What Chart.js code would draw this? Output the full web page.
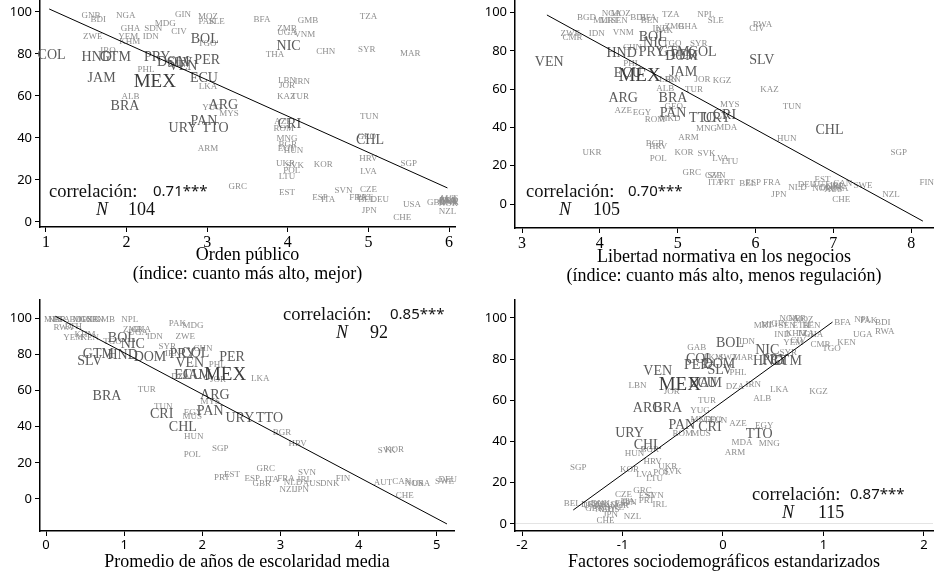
<!DOCTYPE html>
<html>
<head>
<meta charset="utf-8">
<script src="https://cdn.jsdelivr.net/npm/chart.js@4.4.1/dist/chart.umd.min.js"></script>
<style>
  html, body { margin: 0; padding: 0; background: #fff; }
  #wrap { position: relative; width: 936px; height: 575px; }
  .panel { position: absolute; }
</style>
</head>
<body>
<div id="wrap">
  <div class="panel" style="left:0;top:0;width:468px;height:290px"><canvas id="c1"></canvas></div>
  <div class="panel" style="left:468px;top:0;width:468px;height:290px"><canvas id="c2"></canvas></div>
  <div class="panel" style="left:0;top:290px;width:468px;height:285px"><canvas id="c3"></canvas></div>
  <div class="panel" style="left:468px;top:290px;width:468px;height:285px"><canvas id="c4"></canvas></div>
</div>
<script>
// país, valor en el eje x, valor en el eje y
var ordenPublico = [
  ['GNB',1.56,98],['BDI',1.65,96.5],['NGA',1.99,98],['GIN',2.70,98.6],['MOZ',3.01,97.6],
  ['PAK',3.00,95.2],['SLE',3.12,95.2],['BFA',3.68,96.5],['GMB',4.25,96],['TZA',5.0,97.6],
  ['GHA',2.05,91.9],['SDN',2.33,91.9],['MDG',2.48,94.3],['CIV',2.65,90.5],['ZWE',1.58,88],
  ['YEM',2.02,88],['KHM',2.04,86],['IDN',2.30,88],['BOL',2.97,87.1],['TGO',3.0,84.8],
  ['ZMB',3.99,91.9],['UGA',3.99,90],['VNM',4.21,89],['NIC',4.01,83.5],['THA',3.84,79.5],
  ['CHN',4.47,81],['SYR',4.98,82.2],['MAR',5.52,80],['COL',1.07,79.5],['HND',1.63,78.6],
  ['GTM',1.86,78.6],['IRQ',1.77,81.4],['PRY',2.38,78.6],['DOM',2.58,76.2],['PER',3.0,77.1],
  ['VEN',2.70,74],['SLV',2.66,75.5],['PHL',2.24,72.4],['JAM',1.69,68.6],['MEX',2.35,66.7],
  ['ECU',2.96,68.6],['LKA',3.01,64.3],['LBN',3.99,67.3],['IRN',4.18,66.7],['JOR',3.99,64.8],
  ['KAZ',3.98,59.5],['TUR',4.15,59.5],['ALB',2.05,59.5],['BRA',1.98,55.2],['YUG',3.06,54.3],
  ['ARG',3.2,55.7],['MYS',3.27,51.4],['PAN',2.96,48.1],['URY',2.70,44.8],['TTO',3.10,44.8],
  ['TUN',5.01,50],['AZE',3.94,47.6],['CRI',4.02,46.7],['ROM',3.95,44.3],['MNG',3.99,39.5],
  ['BGR',4.0,36.7],['EGY',3.99,34.8],['HUN',4.07,33.8],['ARM',3.01,34.8],['GEO',4.98,40.5],
  ['CHL',5.02,39],['HRV',5.0,30],['SGP',5.5,27.6],['LVA',5.0,23.8],['UKR',3.97,27.6],
  ['SVK',4.09,26.7],['POL',4.05,24.3],['LTU',3.99,21.4],['KOR',4.44,27.1],['GRC',3.38,16.7],
  ['EST',3.99,13.8],['SVN',4.69,14.8],['CZE',5.0,15.2],['ESP',4.40,11.4],['ITA',4.5,10.5],
  ['FRA',4.87,11.4],['PRT',4.95,11.4],['BEL',4.98,10.5],['DEU',5.14,10.5],['USA',5.54,8.1],
  ['JPN',5.01,5.2],['CHE',5.42,1.9],['GBR',5.84,9],['AUS',5.98,10.5],['CAN',5.98,9.5],
  ['DNK',6.0,9],['FIN',5.97,10],['NLD',6.0,10],['NOR',5.99,8.5],['SWE',6.0,9.5],
  ['AUT',5.99,11],['NZL',5.98,4.8]
];

var libertadNegocios = [
  ['BGD',3.83,97.1],['NGA',4.15,99.2],['MOZ',4.27,99.2],['MLI',4.02,95.6],['MRT',4.12,95.6],
  ['SEN',4.25,95.6],['BDI',4.49,97.1],['BFA',4.62,97.1],['BEN',4.64,95.6],['TZA',4.91,98.7],
  ['NPL',5.36,98.7],['SLE',5.49,95.6],['ZMB',4.96,92.4],['GHA',5.13,92.4],['IND',4.78,91.4],
  ['PAK',4.83,90.6],['RWA',6.09,93.5],['CIV',6.02,91.4],['ZWE',3.62,88.8],['CMR',3.65,86.7],
  ['IDN',3.96,88.8],['VNM',4.30,89.3],['BOL',4.68,87.2],['NIC',4.71,84],['TGO',4.93,84],
  ['SYR',5.27,83.6],['CHN',4.42,81.5],['HND',4.28,78.9],['PRY',4.67,79.4],['GTM',4.95,79.4],
  ['COL',5.32,79.4],['DOM',5.05,77.3],['PER',5.08,77.8],['VEN',3.35,74.2],['SLV',6.08,75.2],
  ['PHL',4.41,73.1],['ECU',4.36,68.4],['MEX',4.51,66.8],['JAM',5.07,68.9],['IRN',4.94,64.8],
  ['LBN',4.88,64.8],['JOR',5.32,64.8],['KGZ',5.57,64.3],['ALB',4.84,60],['TUR',5.21,59.5],
  ['KAZ',6.18,59.5],['ARG',4.30,55.3],['BRA',4.94,55.3],['MYS',5.67,51.7],['TUN',6.47,50.7],
  ['AZE',4.30,48.6],['EGY',4.54,47.5],['GEO',4.95,50.7],['PAN',4.94,47.5],['TTO',5.32,44.9],
  ['URY',5.50,44.9],['CRI',5.60,46.5],['ROM',4.71,43.9],['MKD',4.90,44.4],['MNG',5.37,39.2],
  ['MDA',5.63,39.7],['CHL',6.95,38.6],['HUN',6.4,33.9],['BGR',4.71,31.3],['ARM',5.14,34.5],
  ['HRV',4.75,29.8],['UKR',3.90,26.6],['POL',4.75,23.5],['KOR',5.08,26.6],['SVK',5.37,26.1],
  ['LVA',5.55,23.5],['LTU',5.67,21.9],['SGP',7.84,26.6],['GRC',5.18,16.2],['CZE',5.46,14.6],
  ['SVN',5.50,14.6],['ITA',5.48,11],['PRT',5.63,11],['BEL',5.9,10.4],['ESP',5.97,11],
  ['FRA',6.21,11],['JPN',6.30,4.7],['NLD',6.54,8.4],['DEU',6.66,9.9],['AUT',6.83,9.9],
  ['EST',6.86,13],['NOR',6.85,7.8],['DNK',6.95,8.4],['AUS',7.0,7.6],['GBR',7.02,8.9],
  ['IRL',7.05,9.4],['CAN',7.12,10.4],['SWE',7.38,9.4],['USA',7.08,8.0],['CHE',7.1,2.1],
  ['NZL',7.74,4.7],['FIN',8.2,11]
];

var escolaridad = [
  ['MLI',0.08,99.4],['NER',0.14,99.4],['BFA',0.20,99.2],['BDI',0.40,99.4],['MOZ',0.47,99],
  ['GNB',0.55,99.4],['SEN',0.63,98.9],['GMB',0.75,98.9],['RWA',0.22,94.5],['ETH',0.35,95.5],
  ['NPL',1.07,99.4],['ZMB',1.11,93.4],['GHA',1.22,93.4],['UGA',1.18,92],['PAK',1.68,96.7],
  ['MDG',1.88,96.1],['IDN',1.39,89.5],['ZWE',1.78,89.5],['YEM',0.35,89],['KEN',0.56,89],
  ['KHM',0.50,91],['TGO',0.85,87],['BOL',0.97,89],['NIC',1.11,85.6],['GTM',0.67,80.1],
  ['SLV',0.56,76.2],['HND',0.98,79.6],['DOM',1.33,78.5],['SYR',1.55,84],['IRN',1.62,80.5],
  ['PRY',1.75,80.1],['COL',1.91,80.7],['CHN',2.01,82.9],['VEN',1.84,75.1],['PER',2.38,78.5],
  ['PHL',2.19,74],['ECU',1.82,68.5],['JAM',1.93,68.5],['MEX',2.29,68.5],['DZA',1.72,67.5],
  ['JOR',2.20,65.7],['LKA',2.74,66.3],['BRA',0.78,56.9],['TUR',1.29,60.2],['ARG',2.16,57.5],
  ['MYS',2.10,53.6],['TUN',1.50,50.8],['CRI',1.48,47],['EGY',1.88,48],['MUS',1.87,45.3],
  ['PAN',2.10,48.6],['URY',2.48,44.8],['TTO',2.86,44.8],['CHL',1.75,39.8],['HUN',1.89,34.3],
  ['BGR',3.02,36.5],['HRV',3.22,30.4],['SGP',2.23,27.6],['POL',1.87,24.3],['SVK',4.36,26.5],
  ['KOR',4.46,27.1],['GRC',2.81,16.6],['PRT',2.25,11.6],['EST',2.38,13.3],['ESP',2.64,11],
  ['ITA',2.89,10.5],['GBR',2.76,8.3],['FRA',3.07,11],['NLD',3.16,8.8],['IRL',3.31,10.5],
  ['SVN',3.34,14.4],['NZL',3.10,5],['JPN',3.27,5],['AUS',3.40,8.3],['DNK',3.63,8.3],
  ['FIN',3.80,11],['AUT',4.31,8.8],['CAN',4.55,9.4],['NOR',4.71,8.3],['USA',4.80,8.3],
  ['CHE',4.59,1.7],['SWE',5.10,9.4],['DEU',5.14,10.5]
];

var sociodemograficos = [
  ['NGA',0.66,99.5],['NER',0.74,99.5],['MOZ',0.80,99],['MRT',0.40,96.1],['MLI',0.46,96.5],
  ['GIN',0.56,97],['SEN',0.64,96.1],['ETH',0.78,96.1],['BEN',0.88,96.1],['BFA',1.19,97.6],
  ['NPL',1.39,99],['PAK',1.45,98.6],['BDI',1.59,97.6],['RWA',1.61,93.2],['UGA',1.39,91.7],
  ['IND',0.59,91.7],['KHM',0.73,92.2],['TZA',0.82,92.2],['GHA',0.90,92],['YEM',0.70,87.9],
  ['CIV',0.75,89],['CMR',0.97,86.9],['KEN',1.23,87.9],['TGO',1.08,85],['SYR',0.65,83],
  ['NIC',0.44,84.5],['HND',0.45,79.1],['PRY',0.52,79.5],['GTM',0.63,79.1],['BOL',0.07,87.9],
  ['IDN',0.24,88.5],['GAB',-0.26,85.4],['COL',-0.23,80],['PER',-0.26,77.2],['DOM',-0.04,77.5],
  ['SLV',-0.03,74.8],['MAR',0.20,80.6],['TKM',-0.10,80.6],['SWZ',0.05,80.6],['PHL',0.15,73.3],
  ['DZA',0.12,66.5],['IRN',0.30,67.5],['LKA',0.56,65],['KGZ',0.95,64],['ALB',0.39,60.7],
  ['VEN',-0.65,74.3],['MEX',-0.43,67.5],['JAM',-0.15,68.4],['ECU',-0.20,68.4],['LBN',-0.85,67],
  ['JOR',-0.51,64],['ARG',-0.75,56.3],['BRA',-0.55,56.3],['TUR',-0.16,59.7],['YUG',-0.23,54.8],
  ['MKD',-0.22,50.5],['GEO',-0.10,50.5],['TUN',-0.05,50.3],['AZE',0.15,48.5],['EGY',0.41,47.6],
  ['PAN',-0.41,48.1],['CRI',-0.13,47.1],['URY',-0.93,44.2],['ROM',-0.40,43.7],['MUS',-0.22,43.7],
  ['TTO',0.36,43.7],['MDA',0.19,39.3],['MNG',0.46,38.8],['ARM',0.12,34.5],['CHL',-0.75,38.3],
  ['BGR',-0.73,35.9],['HUN',-0.88,34],['HRV',-0.70,30.1],['UKR',-0.55,27.7],['SVK',-0.50,25.2],
  ['POL',-0.61,24.8],['KOR',-0.93,26.2],['LVA',-0.78,23.8],['LTU',-0.68,21.8],['SGP',-1.44,27.2],
  ['GRC',-0.80,16],['CZE',-0.99,14.1],['EST',-0.76,13.6],['SVN',-0.68,13.6],['PRT',-0.76,11.2],
  ['FIN',-0.93,10.2],['IRL',-0.63,9.2],['BEL',-1.50,9.7],['DEU',-1.32,9.5],['DNK',-1.22,9.8],
  ['AUT',-1.13,9.5],['FRA',-1.20,8.2],['GBR',-1.28,7.5],['NLD',-1.18,7],['SWE',-1.08,8],
  ['NOR',-1.03,9],['CAN',-1.25,9.6],['AUS',-1.12,7.2],['USA',-1.30,8.8],['ITA',-0.95,11],
  ['ESP',-1.0,10],['JPN',-1.12,4.4],['NZL',-0.90,3.4],['CHE',-1.17,1.5]
];

// extremos de las rectas de ajuste
var rectaOrden = [[1.04, 101.4], [5.98, 16.2]];
var rectaLibertad = [[3.32, 98.7], [8.15, -8.9]];
var rectaEscolaridad = [[0.12, 101], [5.13, -13.8]];
var rectaSocio = [[-1.49, 6.8], [1.09, 98]];

var ticksY = [0, 20, 40, 60, 80, 100];
var ticksOrden = [1, 2, 3, 4, 5, 6];
var ticksLibertad = [3, 4, 5, 6, 7, 8];
var ticksEscolaridad = [0, 1, 2, 3, 4, 5];
var ticksSocio = [-2, -1, 0, 1, 2];

var correlaciones = ['0.71***', '0.70***', '0.85***', '0.87***'];
var casos = ['104', '105', '92', '115'];

// países latinoamericanos: etiqueta grande y oscura
var latam = ['ARG','BOL','BRA','CHL','COL','CRI','DOM','ECU','GTM','HND','JAM','MEX',
             'NIC','PAN','PER','PRY','SLV','TTO','URY','VEN'];

var SERIF = '"Liberation Serif", "DejaVu Serif", serif';
var SANS = '"Noto Sans", "DejaVu Sans", sans-serif';

// dibuja el código de país en la posición de cada punto
var etiquetas = {
  id: 'etiquetas',
  beforeDatasetsDraw: function (chart) {
    var ctx = chart.ctx;
    chart.data.datasets.forEach(function (ds, i) {
      if (!ds.codigos) return;
      var meta = chart.getDatasetMeta(i);
      ctx.save();
      ctx.textAlign = 'center';
      ctx.textBaseline = 'middle';
      [0, 1, 2].forEach(function (nivel) {
        meta.data.forEach(function (pt, j) {
          var c = ds.codigos[j];
          var n = c === 'MEX' ? 2 : (latam.indexOf(c) >= 0 ? 1 : 0);
          if (n !== nivel) return;
          if (n === 0) { ctx.font = '9px ' + SERIF; ctx.fillStyle = '#8e8e8e'; }
          else if (n === 1) { ctx.font = '14px ' + SERIF; ctx.fillStyle = '#5a5a5a'; }
          else { ctx.font = '19px ' + SERIF; ctx.fillStyle = '#3c3c3c'; }
          ctx.fillText(c, pt.x, pt.y);
        });
      });
      ctx.restore();
    });
  }
};

// texto de correlación y tamaño de muestra
var leyendaCorr = {
  id: 'leyendaCorr',
  afterDraw: function (chart) {
    var o = chart.options.plugins.leyendaCorr;
    if (!o) return;
    var ctx = chart.ctx;
    ctx.save();
    ctx.fillStyle = '#111';
    ctx.textBaseline = 'middle';
    ctx.textAlign = 'left';
    ctx.font = '18.5px ' + SERIF;
    ctx.fillText('correlación:', o.x1, o.y1);
    ctx.font = '15px ' + SANS;
    ctx.fillText(o.r, o.x2, o.y1);
    ctx.textAlign = 'center';
    ctx.font = 'italic 18px ' + SERIF;
    ctx.fillText('N', o.xN, o.y2);
    ctx.textAlign = 'left';
    ctx.font = '18px ' + SERIF;
    ctx.fillText(o.n, o.xn, o.y2);
    ctx.restore();
  }
};

function crearPanel(id, filas, recta, cfg) {
  var alto = document.getElementById(id).parentNode.clientHeight;
  var ancho = document.getElementById(id).parentNode.clientWidth;
  new Chart(document.getElementById(id), {
    type: 'scatter',
    data: {
      datasets: [
        {
          codigos: filas.map(function (f) { return f[0]; }),
          data: filas.map(function (f) { return { x: f[1], y: f[2] }; }),
          pointRadius: 0,
          pointHoverRadius: 0
        },
        {
          type: 'line',
          data: recta.map(function (p) { return { x: p[0], y: p[1] }; }),
          borderColor: '#000',
          borderWidth: 1,
          pointRadius: 0,
          fill: false
        }
      ]
    },
    options: {
      responsive: true,
      maintainAspectRatio: false,
      animation: false,
      events: [],
      layout: { padding: { left: 0, top: cfg.top, right: ancho - cfg.right, bottom: 0 } },
      plugins: {
        legend: { display: false },
        tooltip: { enabled: false },
        leyendaCorr: cfg.corr
      },
      scales: {
        x: {
          type: 'linear',
          min: cfg.xMin,
          max: cfg.xMax,
          afterBuildTicks: function (s) { s.ticks = cfg.xTicks.map(function (v) { return { value: v }; }); },
          afterFit: function (s) {
            s.height = alto - cfg.bottom;
            s.paddingLeft = 0; s.paddingRight = 0;
          },
          grid: { drawOnChartArea: false, tickColor: '#000', tickLength: 5, tickWidth: 1 },
          border: { color: '#000', width: 1.5 },
          ticks: { font: cfg.xFont, color: '#000', padding: 1, maxRotation: 0, autoSkip: false },
          title: {
            display: true,
            text: cfg.titulo,
            color: '#000',
            font: { family: SERIF, size: 18, lineHeight: 1.05 },
            padding: { top: 0, bottom: cfg.tituloPad }
          }
        },
        y: {
          type: 'linear',
          min: cfg.yMin,
          max: cfg.yMax,
          afterBuildTicks: function (s) { s.ticks = ticksY.map(function (v) { return { value: v }; }); },
          afterFit: function (s) {
            s.width = cfg.left;
            s.paddingTop = 0; s.paddingBottom = 0;
          },
          grid: {
            drawOnChartArea: !!cfg.lineaCero,
            color: function (c) {
              return cfg.lineaCero && c.tick && c.tick.value === 0 ? '#e4e4e4' : 'rgba(0,0,0,0)';
            },
            tickColor: '#000', tickLength: 5, tickWidth: 1
          },
          border: { color: '#000', width: 1.5 },
          ticks: { font: { family: SANS, size: 13 }, color: '#000', padding: 3 }
        }
      }
    },
    plugins: [etiquetas, leyendaCorr]
  });
}

crearPanel('c1', ordenPublico, rectaOrden, {
  left: 40, right: 455, top: 1, bottom: 227,
  xMin: 0.926, xMax: 6.074, yMin: -2.4, yMax: 105.2,
  xTicks: ticksOrden, xFont: { family: SERIF, size: 16 },
  titulo: ['Orden público', '(índice: cuanto más alto, mejor)'], tituloPad: 6,
  corr: { x1: 49, y1: 192, x2: 153, r: correlaciones[0], xN: 102, y2: 210, xn: 128, n: casos[0] }
});

crearPanel('c2', libertadNegocios, rectaLibertad, {
  left: 47, right: 465, top: 1, bottom: 228,
  xMin: 2.91, xMax: 8.28, yMin: -12.5, yMax: 106,
  xTicks: ticksLibertad, xFont: { family: SERIF, size: 16 },
  titulo: ['Libertad normativa en los negocios', '(índice: cuanto más alto, menos regulación)'], tituloPad: 4,
  corr: { x1: 58, y1: 192, x2: 160, r: correlaciones[1], xN: 97, y2: 210, xn: 125, n: casos[1] }
});

crearPanel('c3', escolaridad, rectaEscolaridad, {
  left: 40, right: 454, top: 10, bottom: 241,
  xMin: -0.077, xMax: 5.22, yMin: -17.7, yMax: 110,
  xTicks: ticksEscolaridad, xFont: { family: SANS, size: 13 },
  titulo: 'Promedio de años de escolaridad media', tituloPad: 3,
  corr: { x1: 283, y1: 25, x2: 390, r: correlaciones[2], xN: 342, y2: 43, xn: 370, n: casos[2] }
});

crearPanel('c4', sociodemograficos, rectaSocio, {
  left: 47, right: 465, top: 10, bottom: 241,
  xMin: -2.07, xMax: 2.09, yMin: -3.4, yMax: 108.7,
  xTicks: ticksSocio, xFont: { family: SANS, size: 13 },
  titulo: 'Factores sociodemográficos estandarizados', tituloPad: 3, lineaCero: true,
  corr: { x1: 284, y1: 205, x2: 382, r: correlaciones[3], xN: 320, y2: 223, xn: 350, n: casos[3] }
});
</script>
</body>
</html>
